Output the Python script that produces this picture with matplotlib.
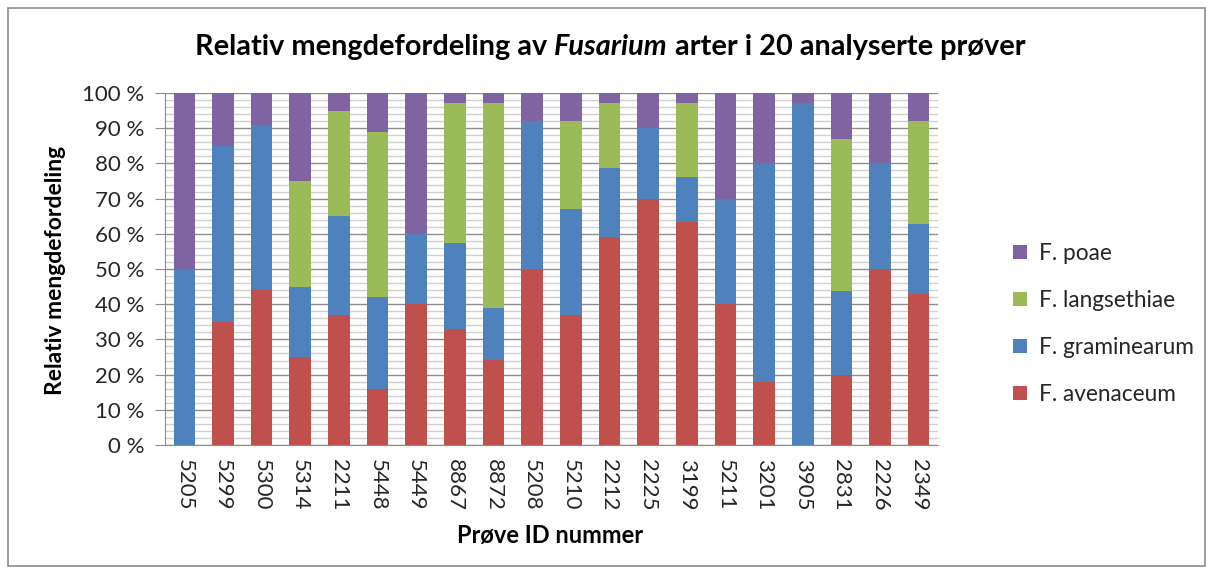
import matplotlib
matplotlib.use("Agg")
import matplotlib.pyplot as plt
import numpy as np
from matplotlib.patches import Rectangle
from matplotlib.ticker import MultipleLocator, FuncFormatter

FONT = "Lato"
plt.rcParams['font.family'] = [FONT, 'DejaVu Sans']

samples = ["5205", "5299", "5300", "5314", "2211", "5448", "5449", "8867", "8872", "5208",
           "5210", "2212", "2225", "3199", "5211", "3201", "3905", "2831", "2226", "2349"]
avenaceum   = [0, 35, 44, 25, 37, 16, 40, 33, 24.2, 50, 37, 59.2, 70, 63.3, 40, 18, 0, 20, 50, 42.8]
graminearum = [50, 50, 47, 20, 28, 26, 20, 24.5, 14.8, 42, 30, 19.6, 20, 12.8, 30, 62, 97.3, 23.8, 30, 20.1]
langsethiae = [0, 0, 0, 30, 30, 47, 0, 39.8, 58.3, 0, 25, 18.5, 0, 21.2, 0, 0, 0, 43, 0, 29.1]
series_names = ["F. avenaceum", "F. graminearum", "F. langsethiae", "F. poae"]
colors = ["#C0504D", "#4F81BD", "#9BBB59", "#8064A2"]

av = np.array(avenaceum); gr = np.array(graminearum); la = np.array(langsethiae)
po = 100 - av - gr - la
data = [av, gr, la, po]

fig = plt.figure(figsize=(12.12, 5.74), dpi=100)
W, H = 1212, 574
# outer border
fig.patches.append(Rectangle((8 / W, 8 / H), (1205 - 8) / W, (566 - 8) / H, transform=fig.transFigure,
                             fill=False, edgecolor="#8C8C8C", linewidth=1.2))

ax = fig.add_axes([165 / W, 1 - 445 / H, (938 - 165) / W, (445 - 93) / H])
x = np.arange(len(samples))
bottom = np.zeros(len(samples))
handles = []
for vals, c, name in zip(data, colors, series_names):
    b = ax.bar(x, vals, bottom=bottom, width=0.56, color=c, label=name, zorder=3)
    handles.append(b)
    bottom = bottom + vals

ax.set_xlim(-0.5, len(samples) - 0.5)
ax.set_ylim(0, 100)
ax.yaxis.set_major_locator(MultipleLocator(10))
ax.yaxis.set_minor_locator(MultipleLocator(2))
ax.yaxis.set_major_formatter(FuncFormatter(lambda v, p: f"{int(round(v))} %"))
ax.grid(which="minor", axis="y", color="#D0D0D0", linewidth=1.0, zorder=0)
ax.grid(which="major", axis="y", color="#8C8C8C", linewidth=1.0, zorder=1)
ax.set_axisbelow(True)
for s in ["top", "right"]:
    ax.spines[s].set_visible(False)
ax.spines["left"].set_color("#8C8C8C")
ax.spines["bottom"].set_color("#8C8C8C")
ax.tick_params(axis="y", which="major", length=7, color="#8C8C8C", labelsize=16, labelcolor="#262626", pad=8)
ax.tick_params(axis="y", which="minor", length=0)
ax.tick_params(axis="x", length=0, labelsize=16, labelcolor="#262626", pad=10)
ax.set_xticks(x)
ax.set_xticklabels(samples, rotation=270)

fig.text(55 / W, 1 - 270 / H, "Relativ mengdefordeling", rotation=90, ha="center", va="center",
         fontsize=16.5, fontweight="bold", color="#000000")
fig.text(550 / W, 1 - 535 / H, "Prøve ID nummer", ha="center", va="center",
         fontsize=17, fontweight="bold", color="#000000")

# title with italic part
parts = [("Relativ mengdefordeling av ", "normal"), ("Fusarium", "italic"), (" arter i 20 analyserte prøver", "normal")]
fig.canvas.draw()
r = fig.canvas.get_renderer()
texts = []
for txt, st in parts:
    t = fig.text(0, 1 - 47 / H, txt, fontsize=20.8, fontweight="bold", style=st, ha="left", va="center")
    texts.append(t)
widths = [t.get_window_extent(r).width for t in texts]
total = sum(widths)
start = 610 - total / 2
for t, w in zip(texts, widths):
    t.set_x(start / W)
    start += w

leg = fig.legend(handles[::-1], series_names[::-1], loc="center left", bbox_to_anchor=(993 / W, 1 - 324 / H),
                 frameon=False, fontsize=16.3, handlelength=0.62, handleheight=0.62, labelspacing=1.15,
                 handletextpad=0.5)
for t in leg.get_texts():
    t.set_color("#262626")

fig.savefig("out.png", dpi=100)
